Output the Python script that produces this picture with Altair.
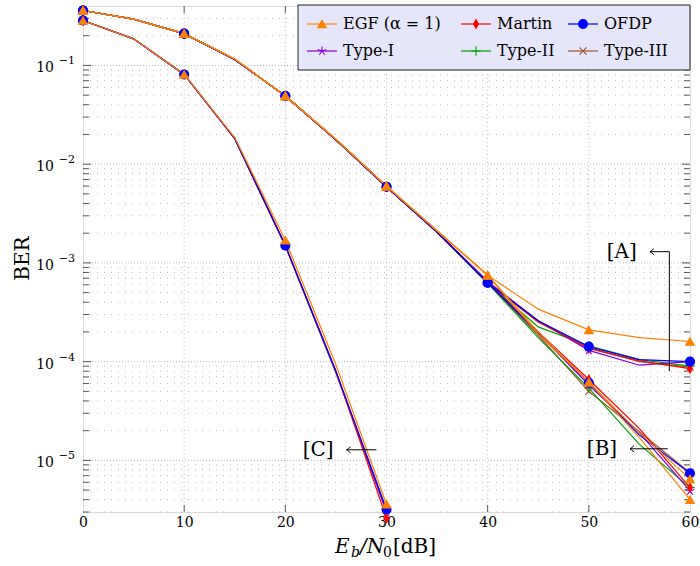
import altair as alt
import pandas as pd

# ---------------- data ----------------
X = [0, 5, 10, 15, 20, 25, 30, 35, 40, 45, 50, 55, 60]
XC = [0, 5, 10, 15, 20, 25, 30]

EGF_A = [0.36, 0.295, 0.21, 0.116, 0.049, 0.0179, 0.0060, 0.00212, 7.5e-4, 3.4e-4, 2.1e-4, 1.75e-4, 1.6e-4]
EGF_B = [0.36, 0.295, 0.21, 0.116, 0.049, 0.0179, 0.0060, 0.00212, 7.5e-4, 2.0e-4, 6.2e-5, 1.9e-5, 6.5e-6]
EGF_B2 = [0.36, 0.295, 0.21, 0.116, 0.049, 0.0179, 0.0060, 0.00212, 7.5e-4, 1.9e-4, 6.2e-5, 1.7e-5, 4.0e-6]
EGF_C = [0.285, 0.186, 0.081, 0.0186, 1.7e-3, 9.3e-5, 3.6e-6]

MARTIN_A = [0.36, 0.295, 0.21, 0.115, 0.049, 0.0177, 0.0059, 0.00205, 6.4e-4, 2.55e-4, 1.36e-4, 1.02e-4, 8.5e-5]
MARTIN_B = [0.36, 0.295, 0.21, 0.115, 0.049, 0.0177, 0.0059, 0.00205, 6.4e-4, 2.0e-4, 6.6e-5, 2.1e-5, 5.3e-6]
MARTIN_C = [0.285, 0.186, 0.081, 0.0182, 1.5e-3, 8.0e-5, 2.6e-6]

OFDP_A = [0.36, 0.295, 0.21, 0.115, 0.049, 0.0177, 0.0059, 0.00205, 6.3e-4, 2.6e-4, 1.42e-4, 1.05e-4, 1.0e-4]
OFDP_B = [0.36, 0.295, 0.21, 0.115, 0.049, 0.0177, 0.0059, 0.00205, 6.3e-4, 1.95e-4, 6.1e-5, 1.8e-5, 7.4e-6]
OFDP_C = [0.285, 0.186, 0.081, 0.0182, 1.5e-3, 8.0e-5, 3.2e-6]

TYPE1_A = [0.36, 0.295, 0.21, 0.115, 0.049, 0.0177, 0.0059, 0.00205, 6.5e-4, 2.6e-4, 1.3e-4, 9.2e-5, 1.0e-4]
TYPE1_B = [0.36, 0.295, 0.21, 0.115, 0.049, 0.0177, 0.0059, 0.00205, 6.5e-4, 1.95e-4, 5.8e-5, 1.9e-5, 4.9e-6]
TYPE1_C = [0.285, 0.186, 0.081, 0.0182, 1.5e-3, 7.9e-5, 3.0e-6]

TYPE2_A = [0.36, 0.295, 0.21, 0.115, 0.049, 0.0177, 0.0059, 0.00205, 6.2e-4, 2.25e-4, 1.45e-4, 1.05e-4, 9.0e-5]
TYPE2_B = [0.36, 0.295, 0.21, 0.115, 0.049, 0.0177, 0.0059, 0.00205, 6.2e-4, 1.75e-4, 5.4e-5, 1.45e-5, 5.3e-6]
TYPE2_C = [0.285, 0.186, 0.081, 0.0182, 1.5e-3, 7.8e-5, 3.0e-6]

TYPE3_A = [0.36, 0.295, 0.21, 0.115, 0.049, 0.0177, 0.0059, 0.00205, 6.3e-4, 2.5e-4, 1.38e-4, 1.0e-4, 8.8e-5]
TYPE3_B = [0.36, 0.295, 0.21, 0.115, 0.049, 0.0177, 0.0059, 0.00205, 6.3e-4, 1.85e-4, 5.0e-5, 1.95e-5, 7.5e-6]
TYPE3_C = [0.285, 0.186, 0.081, 0.0180, 1.48e-3, 7.7e-5, 3.1e-6]

SCHEMES = ["EGF (α = 1)", "Martin", "OFDP", "Type-I", "Type-II", "Type-III"]
COLORS = ["#ff8000", "#ff0000", "#0000ff", "#8000e0", "#00a000", "#a0522d"]
STAR = "M0,0L0,-1M0,0L0.951,-0.309M0,0L0.588,0.809M0,0L-0.588,0.809M0,0L-0.951,-0.309"
SHAPES = ["triangle-up", "M0,-1L0.55,0L0,1L-0.55,0Z", "circle", STAR,
          "M0,-1L0,1M-1,0L1,0", "M-0.75,-0.75L0.75,0.75M-0.75,0.75L0.75,-0.75"]
SIZES = [75, 90, 64, 64, 64, 64]

X_TICKS = [0, 10, 20, 30, 40, 50, 60]
Y_MAJOR = [1e-1, 1e-2, 1e-3, 1e-4, 1e-5]
Y_EXP = ["−1", "−2", "−3", "−4", "−5"]
Y_MINOR = [m * 10.0 ** e for e in range(-6, 0) for m in range(2, 10)
           if 3e-6 <= m * 10.0 ** e < 0.4]

ANN_TEXT = ["[A]", "[B]", "[C]"]
ANN_X = [53.25, 51.3, 23.25]
ANN_Y = [1.30e-3, 1.31e-5, 1.28e-5]
ARR_X1 = [57.96, 57.96, 57.8, 29.0]
ARR_Y1 = [8.0e-5, 1.30e-3, 1.31e-5, 1.28e-5]
ARR_X2 = [57.96, 56.04, 54.07, 26.06]
ARR_Y2 = [1.30e-3, 1.30e-3, 1.31e-5, 1.28e-5]
HEAD_X = [56.04, 54.07, 26.06]
HEAD_Y = [1.30e-3, 1.31e-5, 1.28e-5]

# ---------------- tables ----------------
CURVES = [
    ("Type-III", "III-A", X, TYPE3_A), ("Type-III", "III-B", X, TYPE3_B), ("Type-III", "III-C", XC, TYPE3_C),
    ("Type-II", "II-A", X, TYPE2_A), ("Type-II", "II-B", X, TYPE2_B), ("Type-II", "II-C", XC, TYPE2_C),
    ("Type-I", "I-A", X, TYPE1_A), ("Type-I", "I-B", X, TYPE1_B), ("Type-I", "I-C", XC, TYPE1_C),
    ("Martin", "M-A", X, MARTIN_A), ("Martin", "M-B", X, MARTIN_B), ("Martin", "M-C", XC, MARTIN_C),
    ("OFDP", "O-A", X, OFDP_A), ("OFDP", "O-B", X, OFDP_B), ("OFDP", "O-C", XC, OFDP_C),
    ("EGF (α = 1)", "E-A", X, EGF_A), ("EGF (α = 1)", "E-B", X, EGF_B),
    ("EGF (α = 1)", "E-B2", X, EGF_B2), ("EGF (α = 1)", "E-C", XC, EGF_C),
]
rows = []
for scheme, cid, xs_, ys_ in CURVES:
    for a, b in zip(xs_, ys_):
        rows.append({"scheme": scheme, "curve": cid, "x": a, "y": b})
df = pd.DataFrame(rows)
mk = df[df["x"] % 10 == 0].reset_index(drop=True)

W, H = 607, 506
FONT = "DejaVu Serif"
xs = alt.Scale(domain=[0, 60], nice=False, zero=False)
ys = alt.Scale(type="log", domain=[3e-6, 0.4], nice=False)
cscale = alt.Scale(domain=SCHEMES, range=COLORS)
sscale = alt.Scale(domain=SCHEMES, range=SHAPES)
zscale = alt.Scale(domain=SCHEMES, range=SIZES)

X_AX = alt.Axis(title=None, values=X_TICKS, format="d", labelFont=FONT, labelFontSize=14,
                labelColor="black", ticks=False, domain=False, grid=False, labelPadding=3,
                labelFlush=False)
Y_AX = alt.Axis(title="BER", labels=False, ticks=False, domain=False, grid=False,
                titleFont=FONT, titleFontSize=20, titleFontWeight="normal", titleColor="black",
                titleX=-61, titleY=252, titleAngle=270, titleAlign="center", titleBaseline="middle")


def XE(f):
    return alt.X(f, scale=xs, axis=X_AX)


def YE(f):
    return alt.Y(f, scale=ys, axis=Y_AX)


one = pd.DataFrame({"k": [0]})

# grid
ymaj_df = pd.DataFrame({"v": Y_MAJOR, "e": Y_EXP})
ymin_df = pd.DataFrame({"v": Y_MINOR})
xt_df = pd.DataFrame({"v": X_TICKS[1:-1]})

grid_y_major = alt.Chart(ymaj_df).mark_rule(color="#b4b4b4", strokeDash=[1, 2], strokeWidth=0.9).encode(
    y=YE("v:Q"), x=alt.value(0), x2=alt.value(W))
grid_y_minor = alt.Chart(ymin_df).mark_rule(color="#b4b4b4", strokeDash=[1, 6], strokeWidth=0.9).encode(
    y=YE("v:Q"), x=alt.value(0), x2=alt.value(W))
grid_x = alt.Chart(xt_df).mark_rule(color="#b4b4b4", strokeDash=[1, 3], strokeWidth=0.9).encode(
    x=XE("v:Q"), y=alt.value(0), y2=alt.value(H))

# inward ticks
tk = dict(color="#555555", strokeWidth=1)
tick_l_major = alt.Chart(ymaj_df).mark_rule(**tk).encode(y=YE("v:Q"), x=alt.value(0), x2=alt.value(8))
tick_l_minor = alt.Chart(ymin_df).mark_rule(**tk).encode(y=YE("v:Q"), x=alt.value(0), x2=alt.value(6))
tick_r_major = alt.Chart(ymaj_df).mark_rule(**tk).encode(y=YE("v:Q"), x=alt.value(W), x2=alt.value(W - 8))
tick_r_minor = alt.Chart(ymin_df).mark_rule(**tk).encode(y=YE("v:Q"), x=alt.value(W), x2=alt.value(W - 6))
tick_b = alt.Chart(xt_df).mark_rule(**tk).encode(x=XE("v:Q"), y=alt.value(H), y2=alt.value(H - 7))
tick_t = alt.Chart(xt_df).mark_rule(**tk).encode(x=XE("v:Q"), y=alt.value(0), y2=alt.value(7))

# y labels 10^e
ylab10 = alt.Chart(ymaj_df).mark_text(font=FONT, fontSize=14, align="right", baseline="middle",
                                      dy=3, color="black").encode(
    y=YE("v:Q"), x=alt.value(-29), text=alt.value("10"))
ylabexp = alt.Chart(ymaj_df).mark_text(font=FONT, fontSize=11, align="right", baseline="middle",
                                       dy=-4, color="black").encode(
    y=YE("v:Q"), x=alt.value(-8), text="e:N")

# curves
lines = alt.Chart(df).mark_line(strokeWidth=1.2).encode(
    x=XE("x:Q"), y=YE("y:Q"),
    color=alt.Color("scheme:N", scale=cscale, legend=None),
    detail="curve:N")
points = alt.Chart(mk).mark_point(filled=True, opacity=1, strokeWidth=1.1).encode(
    x=XE("x:Q"), y=YE("y:Q"),
    color=alt.Color("scheme:N", scale=cscale, legend=None),
    stroke=alt.Stroke("scheme:N", scale=cscale, legend=None),
    shape=alt.Shape("scheme:N", scale=sscale, legend=None),
    size=alt.Size("scheme:O", scale=zscale, legend=None))

# annotations
ann_df = pd.DataFrame({"t": ANN_TEXT, "x": ANN_X, "y": ANN_Y})
arr_df = pd.DataFrame({"x1": ARR_X1, "y1": ARR_Y1, "x2": ARR_X2, "y2": ARR_Y2})
head_df = pd.DataFrame({"x": HEAD_X, "y": HEAD_Y})
ann_text = alt.Chart(ann_df).mark_text(font=FONT, fontSize=20, color="black", baseline="middle").encode(
    x=XE("x:Q"), y=YE("y:Q"), text="t:N")
ann_rule = alt.Chart(arr_df).mark_rule(color="black", strokeWidth=1).encode(
    x=XE("x1:Q"), x2="x2:Q", y=YE("y1:Q"), y2="y2:Q")
ann_head = alt.Chart(head_df).mark_point(shape="M1.3,-1Q0.5,-0.3 0,0Q0.5,0.3 1.3,1", filled=False,
                                         color="black", strokeWidth=1, size=36, opacity=1).encode(
    x=XE("x:Q"), y=YE("y:Q"))

# legend (layout in pixels)
COL_X = [224, 378, 485]
ROW_Y = [18, 45]
LEG_COL = [0, 1, 2, 0, 1, 2]
LEG_ROW = [0, 0, 0, 1, 1, 1]
leg = pd.DataFrame({
    "scheme": SCHEMES,
    "lx": [COL_X[c] for c in LEG_COL],
    "lx2": [COL_X[c] + 30 for c in LEG_COL],
    "lpx": [COL_X[c] + 15 for c in LEG_COL],
    "ltx": [COL_X[c] + 36 for c in LEG_COL],
    "ly": [ROW_Y[r] for r in LEG_ROW],
})
leg_box = alt.Chart(one).mark_rect(fill="#e6e6fa", stroke="#222222", strokeWidth=1).encode(
    x=alt.value(215), x2=alt.value(W), y=alt.value(-1), y2=alt.value(64))
leg_line = alt.Chart(leg).mark_rule(strokeWidth=1.2).encode(
    x=alt.X("lx:Q", scale=None, axis=None), x2="lx2:Q",
    y=alt.Y("ly:Q", scale=None, axis=None),
    color=alt.Color("scheme:N", scale=cscale, legend=None))
leg_pt = alt.Chart(leg).mark_point(filled=True, opacity=1, strokeWidth=1.1).encode(
    x=alt.X("lpx:Q", scale=None, axis=None), y=alt.Y("ly:Q", scale=None, axis=None),
    color=alt.Color("scheme:N", scale=cscale, legend=None),
    stroke=alt.Stroke("scheme:N", scale=cscale, legend=None),
    shape=alt.Shape("scheme:N", scale=sscale, legend=None),
    size=alt.Size("scheme:O", scale=zscale, legend=None))
leg_txt = alt.Chart(leg).mark_text(font=FONT, fontSize=16, align="left", baseline="middle",
                                   color="black").encode(
    x=alt.X("ltx:Q", scale=None, axis=None), y=alt.Y("ly:Q", scale=None, axis=None),
    text="scheme:N")


# x-axis title  E_b / N_0 [dB]
def piece(txt, px, py, size, style):
    return alt.Chart(one).mark_text(font=FONT, fontSize=size, fontStyle=style, align="left",
                                    baseline="alphabetic", color="black").encode(
        x=alt.value(px), y=alt.value(py), text=alt.value(txt))


xt = [piece("E", 252, 547, 20, "italic"), piece("b", 268, 551, 14, "italic"),
      piece("/N", 277, 547, 20, "italic"), piece("0", 300, 551, 14, "normal"),
      piece("[dB]", 310, 547, 20, "normal")]

chart = alt.layer(
    grid_y_minor, grid_y_major, grid_x,
    tick_l_major, tick_l_minor, tick_r_major, tick_r_minor, tick_b, tick_t,
    lines, points,
    ann_rule, ann_head, ann_text,
    leg_box, leg_line, leg_pt, leg_txt,
    ylab10, ylabexp, *xt,
).properties(
    width=W, height=H, autosize="none",
    padding={"left": 83, "top": 6, "right": 10, "bottom": 54},
).configure_view(stroke="black", strokeWidth=1.2, fill="#fffbe8").configure(background="white")

chart.save("out.html", embed_options={"renderer": "svg", "actions": False})
